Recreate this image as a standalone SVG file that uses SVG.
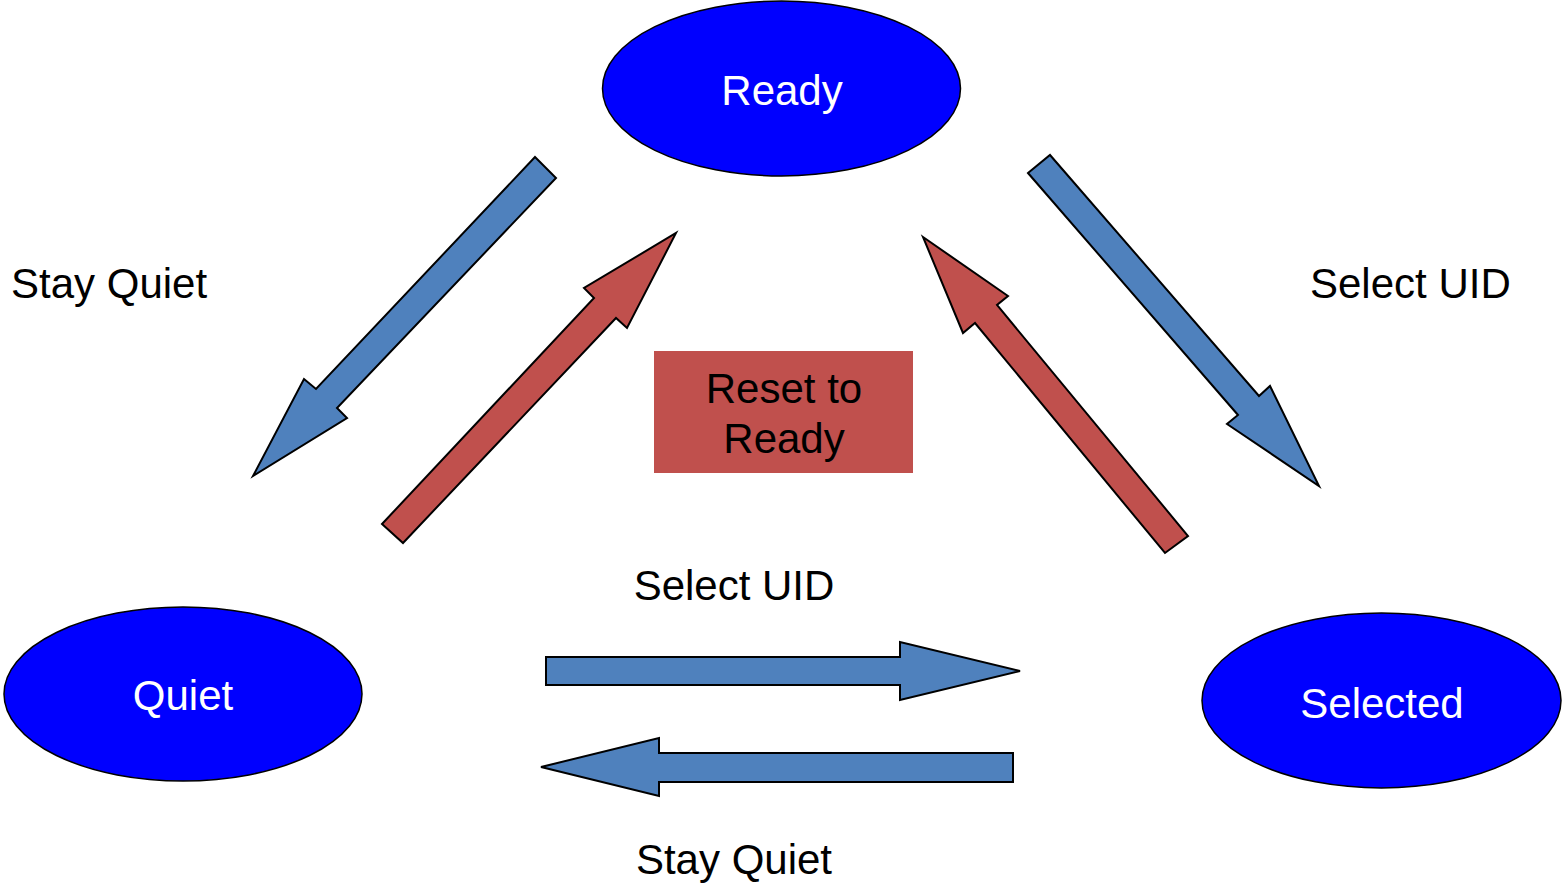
<svg xmlns="http://www.w3.org/2000/svg" width="1564" height="883" viewBox="0 0 1564 883">
<style>
.node{fill:#0000FF;stroke:#000;stroke-width:1.5}
.ntext{fill:#fff;font-family:"Liberation Sans",Arial,sans-serif;font-size:42px;text-anchor:middle}
.lbl{fill:#000;font-family:"Liberation Sans",Arial,sans-serif;font-size:42px}
.blue{fill:#4F81BD;stroke:#000;stroke-width:2;stroke-linejoin:miter}
.red{fill:#C0504D;stroke:#000;stroke-width:2;stroke-linejoin:miter}
</style>
<rect width="1564" height="883" fill="#fff"/>
<g id="connectors">
<polygon class="blue" points="535,157 556,178 337,408 347,418 253,476 304,379 316,389"/>
<polygon class="red" points="382,524 403,543 616,318 627,328 676,233 584,288 594,298"/>
<polygon class="red" points="923,237 1008,296 997,305 1188,536 1165,553 975,323 963,333"/>
<polygon class="blue" points="1028,173 1050,155 1259,396 1270,386 1319,486 1227,424 1238,415"/>
<polygon class="blue" points="546,657 900,657 900,642 1020,671 900,700 900,685 546,685"/>
<polygon class="blue" points="541,767 659,738 659,753 1013,753 1013,782 659,782 659,796"/>
</g>
<g id="ready">
<ellipse class="node" cx="781.5" cy="88.5" rx="179" ry="87.5"/>
<text class="ntext" x="782" y="105">Ready</text>
</g>
<g id="quiet">
<ellipse class="node" cx="183" cy="694" rx="179" ry="87"/>
<text class="ntext" x="183" y="710">Quiet</text>
</g>
<g id="selected">
<ellipse class="node" cx="1381.5" cy="700.5" rx="179.5" ry="87.5"/>
<text class="ntext" x="1382" y="718">Selected</text>
</g>
<g id="reset">
<rect x="654" y="351" width="259" height="122" fill="#C0504D"/>
<text class="lbl" x="784" y="403" text-anchor="middle">Reset to</text>
<text class="lbl" x="784" y="453" text-anchor="middle">Ready</text>
</g>
<g id="labels">
<text class="lbl" x="11" y="298">Stay Quiet</text>
<text class="lbl" x="1310" y="298">Select UID</text>
<text class="lbl" x="734" y="600" text-anchor="middle">Select UID</text>
<text class="lbl" x="734" y="874" text-anchor="middle">Stay Quiet</text>
</g>
</svg>
